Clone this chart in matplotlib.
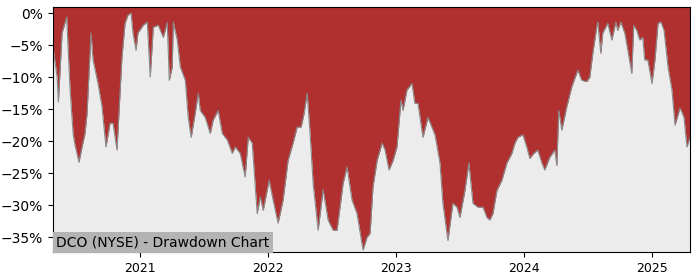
import numpy as np
import pandas as pd
import matplotlib
matplotlib.use("Agg")
import matplotlib.pyplot as plt
import matplotlib.dates as mdates
from matplotlib.ticker import FuncFormatter

title = "DCO (NYSE) - Drawdown Chart"

# decimal years
t_years = [
    2020.323, 2020.352, 2020.362, 2020.391, 2020.427, 2020.438, 2020.453, 2020.477,
    2020.492, 2020.523, 2020.547, 2020.570, 2020.586, 2020.617, 2020.633, 2020.672,
    2020.703, 2020.734, 2020.766, 2020.789, 2020.820, 2020.859, 2020.883, 2020.906,
    2020.930, 2020.945, 2020.969, 2020.984, 2021.023, 2021.055, 2021.078, 2021.102,
    2021.141, 2021.180, 2021.211, 2021.227, 2021.250, 2021.258, 2021.289, 2021.313,
    2021.352, 2021.375, 2021.398, 2021.430, 2021.453, 2021.469, 2021.508, 2021.547,
    2021.570, 2021.609, 2021.641, 2021.680, 2021.719, 2021.742, 2021.781, 2021.820,
    2021.844, 2021.875, 2021.914, 2021.938, 2021.961, 2022.008, 2022.039, 2022.078,
    2022.117, 2022.156, 2022.195, 2022.227, 2022.258, 2022.281, 2022.305, 2022.328,
    2022.352, 2022.391, 2022.430, 2022.469, 2022.508, 2022.539, 2022.586, 2022.617,
    2022.656, 2022.695, 2022.742, 2022.773, 2022.797, 2022.820, 2022.852, 2022.891,
    2022.914, 2022.945, 2022.977, 2023.008, 2023.039, 2023.055, 2023.086, 2023.125,
    2023.148, 2023.172, 2023.211, 2023.250, 2023.305, 2023.344, 2023.367, 2023.406,
    2023.445, 2023.477, 2023.500, 2023.539, 2023.570, 2023.602, 2023.641, 2023.680,
    2023.711, 2023.734, 2023.758, 2023.789, 2023.828, 2023.867, 2023.906, 2023.930,
    2023.953, 2023.992, 2024.023, 2024.047, 2024.078, 2024.109, 2024.141, 2024.164,
    2024.203, 2024.242, 2024.258, 2024.273, 2024.297, 2024.336, 2024.375, 2024.422,
    2024.453, 2024.492, 2024.516, 2024.539, 2024.570, 2024.578, 2024.602, 2024.617,
    2024.656, 2024.688, 2024.719, 2024.734, 2024.758, 2024.789, 2024.813, 2024.844,
    2024.859, 2024.883, 2024.906, 2024.930, 2024.945, 2024.969, 2025.000, 2025.023,
    2025.047, 2025.070, 2025.094, 2025.125, 2025.156, 2025.180, 2025.219, 2025.250,
    2025.273, 2025.297,
]
# drawdown in percent
drawdown = [
    -5.8, -10.0, -13.9, -3.1, -0.6, -5.5, -11.7, -18.8,
    -20.6, -23.3, -20.9, -18.8, -15.7, -3.1, -7.3, -11.0,
    -14.6, -20.9, -17.2, -17.2, -21.4, -6.9, -1.6, -0.3,
    0.0, -3.1, -5.8, -3.1, -1.9, -1.4, -10.0, -2.2,
    -1.9, -3.8, -1.5, -10.5, -8.4, -1.4, -4.2, -8.4,
    -10.5, -16.3, -19.4, -15.6, -12.5, -15.2, -16.3, -18.8,
    -16.7, -15.2, -18.8, -19.8, -21.9, -20.9, -21.9, -25.6,
    -19.4, -20.3, -31.3, -28.7, -30.8, -26.1, -29.2, -32.8,
    -29.2, -23.0, -20.3, -17.8, -17.8, -15.7, -12.5, -18.8,
    -26.6, -33.9, -27.6, -32.3, -33.9, -33.9, -26.6, -24.0,
    -29.2, -31.3, -37.0, -35.0, -34.4, -27.1, -23.0, -20.3,
    -21.4, -24.5, -23.0, -20.9, -13.6, -15.2, -12.0, -11.0,
    -14.1, -14.1, -19.4, -16.3, -19.0, -23.4, -29.7, -35.5,
    -29.7, -30.3, -31.9, -27.7, -23.4, -29.7, -30.3, -30.3,
    -31.9, -32.3, -31.3, -27.7, -26.1, -23.4, -21.9, -20.3,
    -19.4, -19.0, -20.9, -22.7, -21.9, -21.4, -23.4, -24.5,
    -22.5, -21.4, -23.8, -15.2, -18.3, -14.6, -11.5, -8.9,
    -10.5, -10.7, -10.0, -6.3, -2.2, -1.4, -6.3, -3.1,
    -1.6, -4.2, -1.4, -2.7, -1.4, -3.1, -5.8, -9.4,
    -1.9, -2.7, -4.2, -3.8, -7.3, -7.3, -11.0, -7.3,
    -1.6, -1.4, -2.7, -8.4, -12.0, -17.5, -14.8, -16.3,
    -20.9, -19.4,
]

def year_to_date(y):
    yr = int(y)
    start = pd.Timestamp(year=yr, month=1, day=1)
    return start + pd.Timedelta(days=(y - yr) * 365.25)

dates = [year_to_date(y) for y in t_years]
dd = np.array(drawdown)

fig = plt.figure(figsize=(7, 2.8), dpi=100)
ax = fig.add_axes([0.0757, 0.1, 0.91, 0.875])
ax.set_facecolor("#ececec")

top = 0.95
ax.fill_between(dates, dd, top, color="#b03030", linewidth=0)
ax.plot(dates, dd, color="#8a8a8a", linewidth=0.8)

ax.set_ylim(-37.3, top)
ax.set_xlim(year_to_date(2020.32), year_to_date(2025.297))
ax.set_yticks([0, -5, -10, -15, -20, -25, -30, -35])
ax.yaxis.set_major_formatter(FuncFormatter(lambda v, p: f"{int(v)}%".replace("-", "\u2212")))
ax.xaxis.set_major_locator(mdates.YearLocator())
ax.xaxis.set_major_formatter(mdates.DateFormatter("%Y"))
ax.tick_params(labelsize=10)
ax.tick_params(axis="x", labelsize=9)

ax.text(0.005, 0.012, title, transform=ax.transAxes, fontsize=10, ha="left", va="bottom",
        bbox=dict(facecolor="#b3b3b3", edgecolor="none", pad=2.5))

fig.savefig("out.png")
